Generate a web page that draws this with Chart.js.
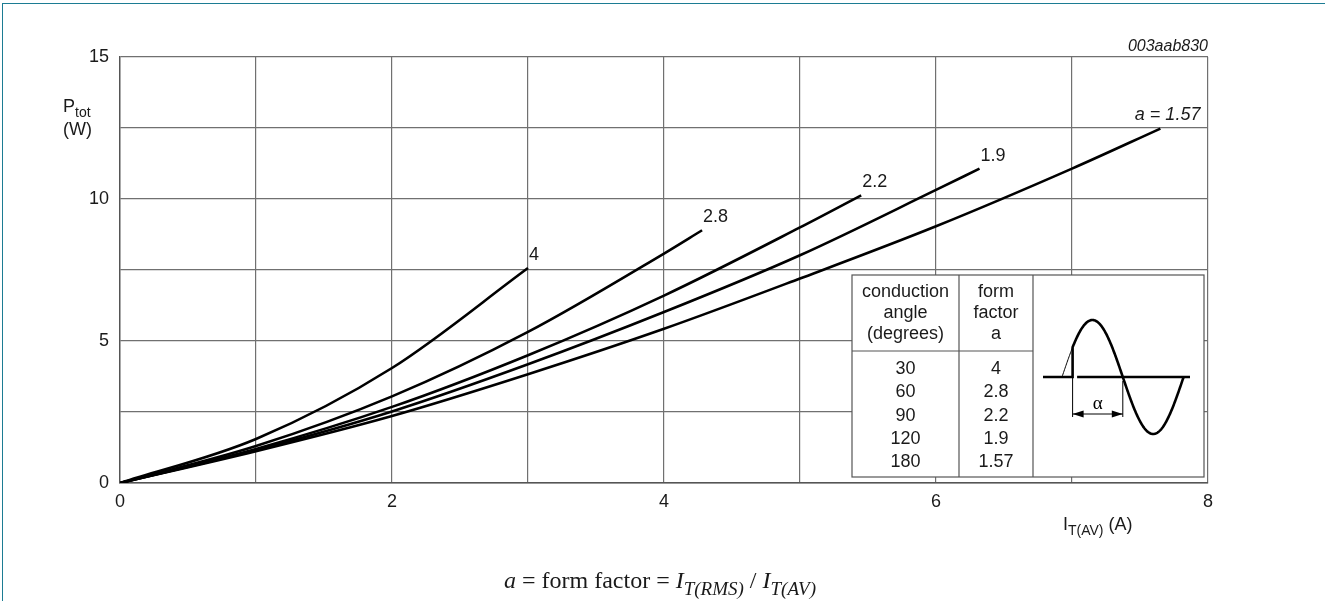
<!DOCTYPE html>
<html>
<head>
<meta charset="utf-8">
<script src="https://cdn.jsdelivr.net/npm/chart.js@4.4.1/dist/chart.umd.min.js"></script>
<style>
    html, body { margin: 0; padding: 0; background: #fff; }
    #wrap { position: relative; width: 1325px; height: 601px; overflow: hidden; }
    #frame {
        position: absolute; left: 2px; top: 3px; right: -10px; bottom: -10px;
        border-left: 1.5px solid #1c7c93; border-top: 1.5px solid #1c7c93;
        pointer-events: none;
    }
    canvas { position: absolute; left: 0; top: 0; }
</style>
</head>
<body>
<div id="wrap">
    <canvas id="powerChart" width="1325" height="601"></canvas>
    <div id="frame"></div>
</div>
<script>
// Curvas Ptot = f(IT(AV))
const current_a4 = [0, 1, 2, 3];
const power_a4 = [0, 1.55, 4.05, 7.57];

const current_a28 = [0, 1, 2, 3, 4, 4.28];
const power_a28 = [0, 1.30, 3.05, 5.32, 8.08, 8.90];

const current_a22 = [0, 1, 2, 3, 4, 5, 5.45];
const power_a22 = [0, 1.20, 2.68, 4.50, 6.60, 9.00, 10.13];

const current_a19 = [0, 1, 2, 3, 4, 5, 6, 6.32];
const power_a19 = [0, 1.16, 2.52, 4.18, 6.02, 8.02, 10.32, 11.07];

const current_a157 = [0, 1, 2, 3, 4, 5, 6, 7, 7.65];
const power_a157 = [0, 1.12, 2.36, 3.83, 5.43, 7.20, 9.04, 11.07, 12.48];

const curveLabels = ['4', '2.8', '2.2', '1.9', 'a = 1.57'];

// Tabla del recuadro
const conductionAngles = ['30', '60', '90', '120', '180'];
const formFactors = ['4', '2.8', '2.2', '1.9', '1.57'];
const headerAngle = ['conduction', 'angle', '(degrees)'];
const headerForm = ['form', 'factor', 'a'];

// Ejes
const X_MIN = 0, X_MAX = 8, X_STEP = 1;
const Y_MIN = 0, Y_MAX = 15, Y_STEP = 2.5;
const xTickLabels = [0, 2, 4, 6, 8];
const yTickLabels = [0, 5, 10, 15];

const FONT = "'Liberation Sans', Arial, sans-serif";
const SERIF = "'Liberation Serif', 'Times New Roman', serif";
const INK = '#1a1a1a';
const TXT = 18;

function toPoints(xs, ys) {
    return xs.map((x, i) => ({ x: x, y: ys[i] }));
}

function makeDataset(xs, ys, label) {
    return {
        label: label,
        data: toPoints(xs, ys),
        borderColor: '#000',
        borderWidth: 2.6,
        pointRadius: 0,
        fill: false,
        showLine: true,
        cubicInterpolationMode: 'monotone'
    };
}

// Texto con subíndice
function drawSub(ctx, x, y, main, sub, tail, size, family, italic) {
    const st = italic ? 'italic ' : '';
    ctx.font = st + size + 'px ' + family;
    ctx.fillText(main, x, y);
    x += ctx.measureText(main).width;
    ctx.font = st + Math.round(size * 0.78) + 'px ' + family;
    ctx.fillText(sub, x, y + size * 0.3);
    x += ctx.measureText(sub).width;
    if (tail) {
        ctx.font = size + 'px ' + family;
        ctx.fillText(tail, x, y);
        x += ctx.measureText(tail).width;
    }
    return x;
}

function arrowHead(ctx, x, y, dir) {
    ctx.beginPath();
    ctx.moveTo(x, y);
    ctx.lineTo(x - dir * 11, y - 3.5);
    ctx.lineTo(x - dir * 11, y + 3.5);
    ctx.closePath();
    ctx.fill();
}

// Recuadro con tabla y onda senoidal
function drawInset(ctx, area) {
    const left = area.right - 356, right = area.right - 4;
    const top = area.top + 218, bottom = area.bottom - 6;
    const col1 = left + 107, col2 = left + 181;
    const headSep = top + 76;

    ctx.save();
    ctx.fillStyle = '#fff';
    ctx.fillRect(left, top, right - left, bottom - top);
    ctx.strokeStyle = '#555';
    ctx.lineWidth = 1.2;
    ctx.strokeRect(left, top, right - left, bottom - top);
    ctx.beginPath();
    ctx.moveTo(col1, top); ctx.lineTo(col1, bottom);
    ctx.moveTo(col2, top); ctx.lineTo(col2, bottom);
    ctx.moveTo(left, headSep); ctx.lineTo(col2, headSep);
    ctx.stroke();

    ctx.fillStyle = INK;
    ctx.font = TXT + 'px ' + FONT;
    ctx.textAlign = 'center';
    ctx.textBaseline = 'middle';
    const c1 = (left + col1) / 2, c2 = (col1 + col2) / 2;
    headerAngle.forEach((t, i) => ctx.fillText(t, c1, top + 17 + i * 21));
    headerForm.forEach((t, i) => ctx.fillText(t, c2, top + 17 + i * 21));
    conductionAngles.forEach((t, i) => ctx.fillText(t, c1, top + 94 + i * 23.3));
    formFactors.forEach((t, i) => ctx.fillText(t, c2, top + 94 + i * 23.3));

    // onda
    const x0 = left + 210, yb = top + 102, half = 60.8, amp = 57;
    const xc = x0 + 10.6;
    const sineY = x => yb - amp * Math.sin(Math.PI * (x - x0) / half);
    ctx.strokeStyle = '#000';
    ctx.lineWidth = 1;
    ctx.beginPath();
    for (let x = x0; x <= xc; x += 0.5) {
        x === x0 ? ctx.moveTo(x, sineY(x)) : ctx.lineTo(x, sineY(x));
    }
    ctx.stroke();

    ctx.lineWidth = 2.6;
    ctx.beginPath();
    ctx.moveTo(left + 191, yb);
    ctx.lineTo(xc, yb);
    ctx.lineTo(xc, sineY(xc));
    for (let x = xc; x <= x0 + 2 * half; x += 0.5) ctx.lineTo(x, sineY(x));
    ctx.stroke();
    ctx.beginPath();
    ctx.moveTo(xc + 4.5, yb);
    ctx.lineTo(left + 338, yb);
    ctx.stroke();

    // cota alfa
    const ya = yb + 37;
    ctx.lineWidth = 1;
    ctx.beginPath();
    ctx.moveTo(xc, yb); ctx.lineTo(xc, ya + 3);
    ctx.moveTo(x0 + half, yb + 4); ctx.lineTo(x0 + half, ya + 3);
    ctx.moveTo(xc, ya); ctx.lineTo(x0 + half, ya);
    ctx.stroke();
    ctx.fillStyle = '#000';
    arrowHead(ctx, xc, ya, -1);
    arrowHead(ctx, x0 + half, ya, 1);
    ctx.font = '19px ' + SERIF;
    ctx.textBaseline = 'alphabetic';
    ctx.fillText('\u03b1', (xc + x0 + half) / 2, ya - 5);
    ctx.restore();
}

const annotations = {
    id: 'annotations',
    afterDatasetsDraw(chart) {
        const { ctx, chartArea: area, scales } = chart;
        ctx.save();
        ctx.fillStyle = INK;
        ctx.textBaseline = 'alphabetic';

        // etiquetas de curvas
        chart.data.datasets.forEach((ds, i) => {
            const last = ds.data[ds.data.length - 1];
            const px = scales.x.getPixelForValue(last.x);
            const py = scales.y.getPixelForValue(last.y);
            if (i === curveLabels.length - 1) {
                ctx.font = 'italic ' + TXT + 'px ' + FONT;
                ctx.textAlign = 'right';
                ctx.fillText(curveLabels[i], px + 40, py - 9);
            } else {
                ctx.font = TXT + 'px ' + FONT;
                ctx.textAlign = 'left';
                ctx.fillText(curveLabels[i], px + 1, py - 8);
            }
        });

        // código de figura
        ctx.font = 'italic 16px ' + FONT;
        ctx.textAlign = 'right';
        ctx.fillText('003aab830', area.right, area.top - 6);

        // títulos de ejes
        ctx.textAlign = 'left';
        drawSub(ctx, 63, 112, 'P', 'tot', '', TXT, FONT, false);
        ctx.font = TXT + 'px ' + FONT;
        ctx.fillText('(W)', 63, 135);
        drawSub(ctx, 1063, 530, 'I', 'T(AV)', ' (A)', TXT, FONT, false);

        drawInset(ctx, area);

        // fórmula
        const fy = 588;
        let fx = 504;
        ctx.font = 'italic 24px ' + SERIF;
        ctx.fillText('a', fx, fy);
        fx += ctx.measureText('a').width;
        ctx.font = '24px ' + SERIF;
        const mid = ' = form factor = ';
        ctx.fillText(mid, fx, fy);
        fx += ctx.measureText(mid).width;
        fx = drawSub(ctx, fx, fy, 'I', 'T(RMS)', '', 24, SERIF, true);
        ctx.font = '24px ' + SERIF;
        ctx.fillText(' / ', fx, fy);
        fx += ctx.measureText(' / ').width;
        drawSub(ctx, fx, fy, 'I', 'T(AV)', '', 24, SERIF, true);
        ctx.restore();
    }
};

function initChart() {
    Chart.defaults.font.family = FONT;
    Chart.defaults.color = INK;

    const ctx = document.getElementById('powerChart').getContext('2d');
    new Chart(ctx, {
        type: 'scatter',
        data: {
            datasets: [
                makeDataset(current_a4, power_a4, curveLabels[0]),
                makeDataset(current_a28, power_a28, curveLabels[1]),
                makeDataset(current_a22, power_a22, curveLabels[2]),
                makeDataset(current_a19, power_a19, curveLabels[3]),
                makeDataset(current_a157, power_a157, curveLabels[4])
            ]
        },
        options: {
            responsive: false,
            animation: false,
            devicePixelRatio: 1,
            layout: { padding: { left: 80, right: 117, top: 57, bottom: 68 } },
            plugins: {
                legend: { display: false },
                tooltip: { enabled: false }
            },
            scales: {
                x: {
                    type: 'linear',
                    min: X_MIN, max: X_MAX,
                    afterFit: s => { s.height = 50; },
                    ticks: {
                        stepSize: X_STEP,
                        autoSkip: false,
                        maxRotation: 0,
                        padding: 8,
                        font: { size: TXT },
                        color: INK,
                        callback: v => xTickLabels.includes(v) ? String(v) : ''
                    },
                    grid: { color: '#707070', lineWidth: 1.2, drawTicks: false },
                    border: { color: '#555', width: 1.4 }
                },
                y: {
                    min: Y_MIN, max: Y_MAX,
                    afterFit: s => { s.width = 40; },
                    ticks: {
                        stepSize: Y_STEP,
                        autoSkip: false,
                        padding: 11,
                        font: { size: TXT },
                        color: INK,
                        callback: v => yTickLabels.includes(v) ? String(v) : ''
                    },
                    grid: { color: '#707070', lineWidth: 1.2, drawTicks: false },
                    border: { color: '#555', width: 1.4 }
                }
            }
        },
        plugins: [annotations]
    });
}

document.addEventListener('DOMContentLoaded', initChart);
</script>
</body>
</html>
